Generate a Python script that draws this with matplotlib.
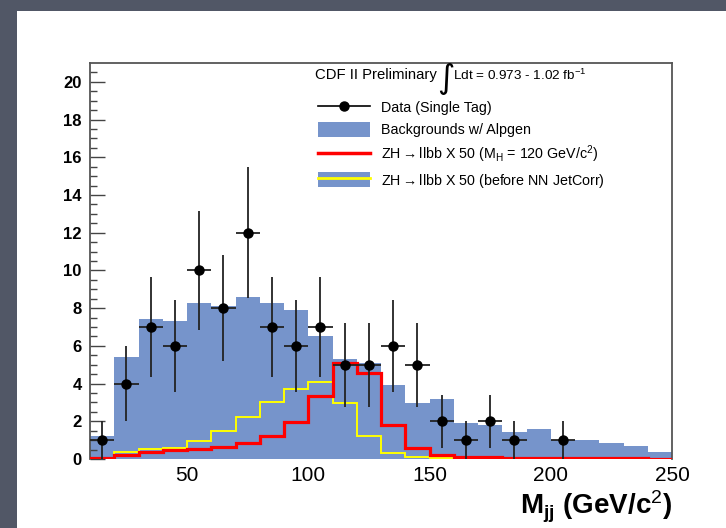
import numpy as np
import matplotlib
matplotlib.use('Agg')
import matplotlib.pyplot as plt
from matplotlib.patches import Patch, Rectangle
from matplotlib.lines import Line2D
from matplotlib.legend_handler import HandlerTuple

plt.rcParams['font.family'] = ['Liberation Sans', 'DejaVu Sans']
plt.rcParams['mathtext.fontset'] = 'custom'
plt.rcParams['mathtext.rm'] = 'Liberation Sans'
plt.rcParams['mathtext.bf'] = 'Liberation Sans:bold'
plt.rcParams['mathtext.it'] = 'Liberation Sans:italic'

# bin edges (GeV/c^2)
edges = np.arange(10, 251, 10)

# backgrounds w/ Alpgen
background = [1.2, 5.43, 7.4, 7.32, 8.26, 8.12, 8.61, 8.29, 7.9, 6.52,
              5.29, 5.11, 3.93, 2.95, 3.18, 1.93, 1.80, 1.43, 1.57, 1.0,
              1.0, 0.87, 0.69, 0.39]

# ZH -> llbb x50 (MH = 120)
signal = [0.05, 0.21, 0.39, 0.48, 0.51, 0.65, 0.87, 1.22, 1.98, 3.32,
          5.07, 4.58, 1.8, 0.57, 0.21, 0.12, 0.08, 0.06, 0.05, 0.04,
          0.04, 0.03, 0.03, 0.02]

# ZH -> llbb x50 before NN JetCorr
signal_old = [0.04, 0.39, 0.51, 0.6, 0.95, 1.5, 2.25, 3.04, 3.71, 4.06,
              2.95, 1.22, 0.34, 0.12, 0.06, 0.04, 0.03, 0.03, 0.02, 0.02,
              0.02, 0.01, 0.01, 0.01]

# data (single tag) counts per bin
data = [1, 4, 7, 6, 10, 8, 12, 7, 6, 7, 5, 5, 6, 5, 2, 1, 2, 1, 0, 1,
        0, 0, 0, 0]

blue = '#7694cb'

fig = plt.figure(figsize=(7.26, 5.28), dpi=100)
fig.patch.set_facecolor('#515766')
fig.patches.append(Rectangle((17/726, 0), 1, (528-11)/528, transform=fig.transFigure,
                             facecolor='white', edgecolor='none', zorder=-10))

ax = fig.add_axes([90/726, (528-459)/528, (672-90)/726, (459-63)/528])
ax.set_zorder(5)

ax.stairs(background, edges, fill=True, color=blue, zorder=1)
ax.stairs(signal_old, edges, color='#ffff00', lw=1.4, zorder=2)
ax.stairs(signal, edges, color='#ff0000', lw=2.3, zorder=3)

centers = (edges[:-1] + edges[1:]) / 2
d = np.array(data, dtype=float)
mask = d > 0
ax.errorbar(centers[mask], d[mask], yerr=np.sqrt(d[mask]), xerr=5, fmt='o',
            color='black', ecolor='#222222', ms=6.5, elinewidth=1.3,
            capsize=0, zorder=4)

ax.set_xlim(10, 250)
ax.set_ylim(0, 21)

ax.set_yticks(np.arange(0, 21, 2))
ax.set_yticks(np.arange(0, 21, 0.5), minor=True)
ax.tick_params(axis='y', which='major', direction='in', length=11, width=1,
               color='#444444', pad=6, labelsize=12)
ax.tick_params(axis='y', which='minor', direction='in', length=5, width=1,
               color='#444444')
for lab in ax.get_yticklabels():
    lab.set_fontweight('bold')

ax.set_xticks([50, 100, 150, 200, 250])
ax.tick_params(axis='x', which='both', length=0, pad=5, labelsize=15)

for side in ['left', 'top', 'right']:
    ax.spines[side].set_color('#555555')
    ax.spines[side].set_linewidth(1.3)
ax.spines['bottom'].set_visible(False)

ax.set_xlabel(r'$\mathbf{M_{jj}}$ (GeV/c$^{2}$)', fontsize=20, fontweight='bold',
              loc='right', labelpad=3)

# header text
ax.text((315-90)/582, (459-75)/396, 'CDF II Preliminary', transform=ax.transAxes,
        fontsize=10.7, va='center', ha='left')
ax.text((446-90)/582, (459-78)/396, '\u222b', transform=ax.transAxes,
        fontsize=24, va='center', ha='center', family=['DejaVu Sans'])
ax.text((453-90)/582, (459-75)/396, 'Ldt = 0.973 - 1.02 fb$^{-1}$',
        transform=ax.transAxes, fontsize=9.7, va='center', ha='left')

handles = [
    Line2D([], [], color='black', marker='o', ms=6.5, lw=1.2),
    Patch(facecolor=blue, edgecolor='none'),
    Line2D([], [], color='#ff0000', lw=2.5),
    (Patch(facecolor=blue, edgecolor='none'), Line2D([], [], color='#ffff00', lw=2)),
]
labels = ['Data (Single Tag)', 'Backgrounds w/ Alpgen',
          r'ZH$\rightarrow$llbb X 50 (M$_{\mathrm{H}}$ = 120 GeV/c$^{2}$)',
          r'ZH$\rightarrow$llbb X 50 (before NN JetCorr)']
ax.legend(handles, labels, loc='upper left',
          bbox_to_anchor=((318-90)/582, (459-100)/396), frameon=False,
          fontsize=10.3, handlelength=3.6, handleheight=1.25, handletextpad=0.8,
          labelspacing=0.45, borderpad=0, borderaxespad=0, numpoints=1,
          handler_map={tuple: HandlerTuple(ndivide=1, pad=0)})

fig.savefig('out.png', dpi=100, facecolor=fig.get_facecolor())
